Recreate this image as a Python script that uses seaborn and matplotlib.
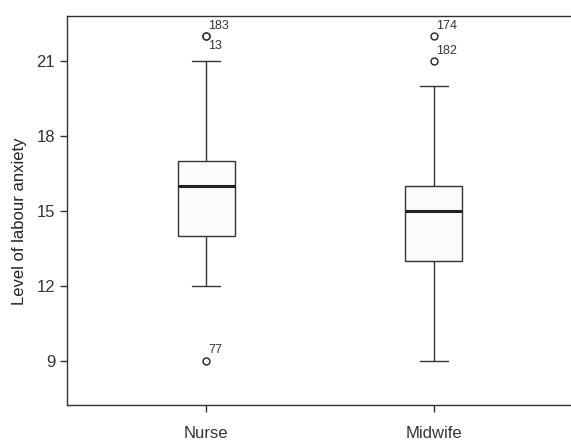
import matplotlib
matplotlib.use('Agg')
import matplotlib.pyplot as plt
import seaborn as sns
import pandas as pd

# values (quartiles, whiskers, outliers per group)
groups = ['Nurse', 'Midwife']
nurse_scores = [9, 12, 14, 14, 15, 16, 16, 16, 17, 17, 21, 22, 22]
midwife_scores = [9, 12, 13, 13, 14, 15, 15, 15, 16, 16, 20, 21, 22]

# case numbers printed next to the outliers
case_labels = ['183', '13', '77', '174', '182']
case_groups = ['Nurse', 'Nurse', 'Nurse', 'Midwife', 'Midwife']
case_values = [22, 22, 9, 22, 21]
case_below = [False, True, False, False, False]

y_ticks = [9, 12, 15, 18, 21]

df = pd.DataFrame({
    'group': ['Nurse'] * len(nurse_scores) + ['Midwife'] * len(midwife_scores),
    'score': nurse_scores + midwife_scores,
})

sns.set_style('ticks')
plt.rcParams['font.family'] = ['Liberation Sans', 'DejaVu Sans']

fig = plt.figure(figsize=(5.71, 4.44), dpi=100)
ax = fig.add_axes([0.1173, 0.0878, 0.8862, 0.8761])

sns.boxplot(data=df, x='group', y='score', order=groups, ax=ax,
            width=0.25, whis=1.5, color='#fbfbfb', linecolor='#333333',
            linewidth=1.0,
            medianprops=dict(color='#222222', linewidth=2.2),
            flierprops=dict(marker='o', markersize=5, markerfacecolor='white',
                            markeredgecolor='#222222', markeredgewidth=1.0))

pos = {g: i for i, g in enumerate(groups)}
for lab, g, v, below in zip(case_labels, case_groups, case_values, case_below):
    ax.annotate(lab, (pos[g], v), xytext=(1.5, -7.5 if below else 7.5),
                textcoords='offset points', ha='left', va='center',
                fontsize=9, color='#333333')

ax.set_xlim(-0.61, 1.61)
ax.set_ylim(7.23, 22.8)
ax.set_yticks(y_ticks)
ax.set_xlabel('')
ax.set_ylabel('Level of labour anxiety', fontsize=12, color='#222222')
ax.yaxis.set_label_coords(-0.079, 0.473)
ax.tick_params(axis='both', labelsize=12, colors='#333333', length=5, width=1)
ax.tick_params(axis='x', pad=10)
for s in ax.spines.values():
    s.set_color('#333333')
    s.set_linewidth(1.0)

fig.savefig('out.png', dpi=100)
